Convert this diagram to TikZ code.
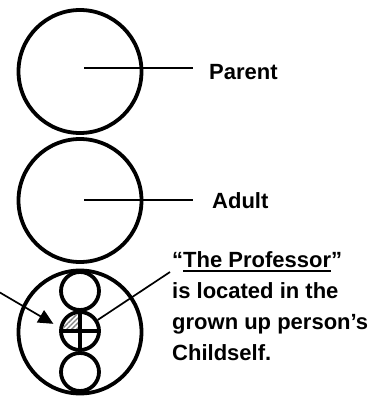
\documentclass[tikz,border=0pt]{standalone}
\usepackage{fontspec}
\setmainfont{Liberation Sans}
\usetikzlibrary{arrows.meta,patterns.meta}
\newcommand\thickuline[1]{\setbox0\hbox{#1}\rlap{\rule[-5pt]{\wd0}{1.8pt}}\box0}

\begin{document}
\begin{tikzpicture}[x=1pt,y=-1pt,
  egostate/.style={circle,draw,line width=3.8pt,inner sep=0pt,minimum size=123pt},
  subego/.style={circle,draw,line width=3.8pt,inner sep=0pt,minimum size=38pt},
  lbl/.style={anchor=base west,inner sep=0pt,align=left,font=\fontsize{22}{31}\selectfont\bfseries},
  conn/.style={line width=1.7pt}]
\useasboundingbox (0,0) rectangle (374,396);
% the three ego states
\node[egostate] (parent) at (80,71.5) {};
\node[egostate] (adult) at (80,200.5) {};
\node[egostate] (child) at (80,332) {};
% ego states inside the child
\node[subego] (p1) at (80,291) {};
\node[subego] (a1) at (80,331) {};
\node[subego] (c1) at (80,372) {};
\begin{scope}
\clip (a1.center) rectangle ([xshift=-20pt,yshift=20pt]a1.center);
\fill[pattern={Lines[angle=45,distance=3.5pt,line width=1.4pt]},pattern color=gray] (a1.center) circle[radius=17pt];
\end{scope}
\draw[line width=3.2pt] (a1.north) -- (a1.south);
\draw[line width=3.2pt] (a1.west) -- (a1.east);
% labels (base of a multi-line node is its last line)
\node[lbl] (parentlbl) at (209,79) {Parent};
\node[lbl] (adultlbl) at (212,208) {Adult};
\node[lbl] (note) at (172,360) {“\thickuline{The Professor}”\\is located in the\\grown up person’s\\Childself.};
\coordinate (pstart) at (84,68);
\coordinate (pend) at (193,68);
\coordinate (astart) at (84,200);
\coordinate (aend) at (193,200);
\coordinate (noteend) at (170,272);
\coordinate (arrstart) at (-1,292);
\draw[conn] (pstart) -- (pend);
\draw[conn] (astart) -- (aend);
\draw[conn] (a1.32) -- (noteend);
\draw[conn,-{Triangle[length=15pt,width=14pt]},shorten >=7pt] (arrstart) -- (a1.170);
\end{tikzpicture}
\end{document}
